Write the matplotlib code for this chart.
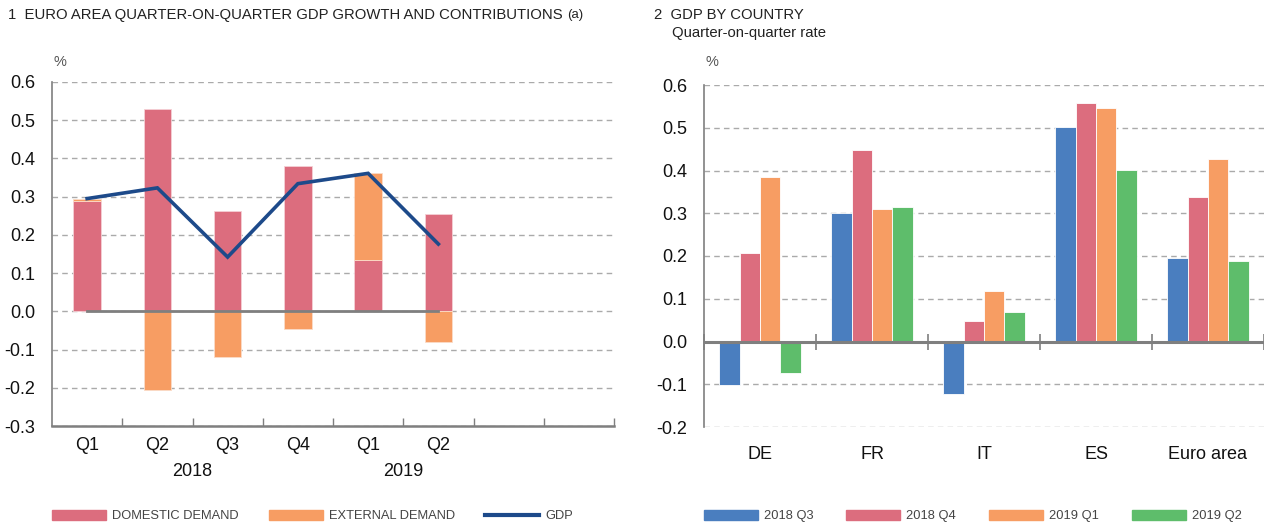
import matplotlib
matplotlib.use("Agg")
import matplotlib.pyplot as plt
from matplotlib.patches import Patch
from matplotlib.lines import Line2D
import numpy as np

# ────────────────────────────────────────────────────────────────────────────────
# DATA
# ────────────────────────────────────────────────────────────────────────────────
quarters   = ["Q1", "Q2", "Q3", "Q4", "Q1", "Q2"]
years      = ["2018", "2019"]
domestic   = [0.288, 0.530, 0.262, 0.380, 0.134, 0.255]
external   = [0.006, -0.207, -0.120, -0.046, 0.228, -0.080]
gdp        = [0.295, 0.323, 0.142, 0.334, 0.361, 0.176]

countries  = ["DE", "FR", "IT", "ES", "Euro area"]
periods    = ["2018 Q3", "2018 Q4", "2019 Q1", "2019 Q2"]
q3_2018    = [-0.102, 0.300, -0.123, 0.502, 0.196]
q4_2018    = [0.207, 0.448, 0.047, 0.559, 0.338]
q1_2019    = [0.385, 0.311, 0.118, 0.547, 0.427]
q2_2019    = [-0.073, 0.314, 0.070, 0.402, 0.189]
# ────────────────────────────────────────────────────────────────────────────────

PINK   = "#DC6D7E"
ORANGE = "#F79D63"
NAVY   = "#1D4A8A"
BLUE   = "#4A7EBF"
GREEN  = "#5EBD6B"
GREY   = "#7F7F7F"
GRID   = "#AAAAAA"

plt.rcParams["font.family"] = ["Liberation Sans", "DejaVu Sans"]

W, H = 1264, 530
fig = plt.figure(figsize=(W / 100, H / 100), dpi=100)


def style_axes(ax, ymin, ymax):
    ax.set_ylim(ymin, ymax)
    ticks = np.round(np.arange(ymin, ymax + 0.001, 0.1), 1)
    ax.set_yticks(ticks)
    ax.set_yticklabels([f"{t:.1f}" for t in ticks])
    ax.yaxis.grid(True, linestyle=(0, (4, 3)), color=GRID, linewidth=1.0)
    ax.set_axisbelow(True)
    for s in ["top", "right"]:
        ax.spines[s].set_visible(False)
    ax.spines["left"].set_color(GREY)
    ax.spines["left"].set_linewidth(1.2)
    ax.tick_params(axis="y", length=0, pad=12, labelsize=13, labelcolor="#111111")


# ── panel 1 ────────────────────────────────────────────────────────────────────
ax1 = fig.add_axes([52 / W, 1 - 426 / H, (614 - 52) / W, (426 - 82) / H])
style_axes(ax1, -0.3, 0.6)
x = np.arange(len(quarters))
ax1.set_xlim(-0.5, 7.5)

ext_bottom = [d if e > 0 else 0 for d, e in zip(domestic, external)]
ax1.bar(x, domestic, width=0.39, color=PINK, edgecolor="#F5D0D5", linewidth=0.6, zorder=2)
ax1.bar(x, external, width=0.39, bottom=ext_bottom, color=ORANGE,
        edgecolor="#FBDCC8", linewidth=0.6, zorder=2)
ax1.plot([x[0], x[-1]], [0, 0], color=GREY, linewidth=2, zorder=3)
ax1.plot(x, gdp, color=NAVY, linewidth=2.6, zorder=4, solid_joinstyle="miter")

ax1.spines["bottom"].set_color(GREY)
ax1.spines["bottom"].set_linewidth(1.8)
ax1.set_xticks(x)
ax1.set_xticklabels(quarters)
ax1.set_xticks(np.arange(0.5, 8, 1), minor=True)
ax1.tick_params(axis="x", which="major", length=0, pad=8, labelsize=13, labelcolor="#111111")
ax1.tick_params(axis="x", which="minor", direction="in", length=6, width=1, color=GREY)
for yr, xc in zip(years, [1.5, 4.5]):
    ax1.annotate(yr, xy=(xc, 0), xycoords=("data", "axes fraction"),
                 xytext=(0, -45), textcoords="offset pixels",
                 ha="center", va="center", fontsize=13, color="#111111")

# ── panel 2 ────────────────────────────────────────────────────────────────────
ax2 = fig.add_axes([704 / W, 1 - 427 / H, (W - 704) / W, (427 - 85) / H])
style_axes(ax2, -0.2, 0.6)
ax2.spines["bottom"].set_visible(False)
xc = np.arange(len(countries))
ax2.set_xlim(-0.5, 4.5)
bw = 0.182
series = [q3_2018, q4_2018, q1_2019, q2_2019]
colors = [BLUE, PINK, ORANGE, GREEN]
for i, (vals, col) in enumerate(zip(series, colors)):
    ax2.bar(xc + (i - 1.5) * bw, vals, width=bw, color=col,
            edgecolor="white", linewidth=0.6, zorder=2)
ax2.axhline(0, color=GREY, linewidth=2.2, zorder=3)
bounds = np.arange(-0.5, 5, 1)
ax2.plot(bounds, np.zeros_like(bounds), linestyle="none", marker="|",
         markersize=11, markeredgewidth=1.2, color=GREY, zorder=3, clip_on=False)
ax2.set_xticks(xc)
ax2.set_xticklabels(countries)
ax2.tick_params(axis="x", length=0, pad=14, labelsize=13, labelcolor="#111111")

# ── titles ─────────────────────────────────────────────────────────────────────
t1 = fig.text(8 / W, 1 - 15 / H,
              "1  EURO AREA QUARTER-ON-QUARTER GDP GROWTH AND CONTRIBUTIONS",
              fontsize=10.7, va="center", ha="left", color="#222222")
renderer = fig.canvas.get_renderer()
bb = t1.get_window_extent(renderer=renderer)
fig.text((bb.x1 + 4) / W, 1 - 15 / H, "(a)", fontsize=9.5, va="center", ha="left",
         color="#222222")
fig.text(654 / W, 1 - 15 / H, "2  GDP BY COUNTRY", fontsize=10.7, va="center",
         ha="left", color="#222222")
fig.text(672 / W, 1 - 33 / H, "Quarter-on-quarter rate", fontsize=10.7, va="center",
         ha="left", color="#222222")
fig.text(60 / W, 1 - 62 / H, "%", fontsize=10.5, va="center", ha="center", color="#555555")
fig.text(712 / W, 1 - 62 / H, "%", fontsize=10.5, va="center", ha="center", color="#555555")

# ── legends ────────────────────────────────────────────────────────────────────
leg_items = [
    (Patch(color=PINK), "DOMESTIC DEMAND", 52),
    (Patch(color=ORANGE), "EXTERNAL DEMAND", 269),
    (Line2D([], [], color=NAVY, linewidth=3), "GDP", 485),
    (Patch(color=BLUE), periods[0], 704),
    (Patch(color=PINK), periods[1], 846),
    (Patch(color=ORANGE), periods[2], 989),
    (Patch(color=GREEN), periods[3], 1132),
]
for h, lab, px in leg_items:
    fig.legend([h], [lab], loc="center left", bbox_to_anchor=(px / W, 1 - 516 / H),
               frameon=False, borderpad=0, borderaxespad=0, handlelength=4.15,
               handleheight=0.85, handletextpad=0.5,
               prop={"size": 9.3}, labelcolor="#444444")

fig.savefig("out.png", dpi=100)
